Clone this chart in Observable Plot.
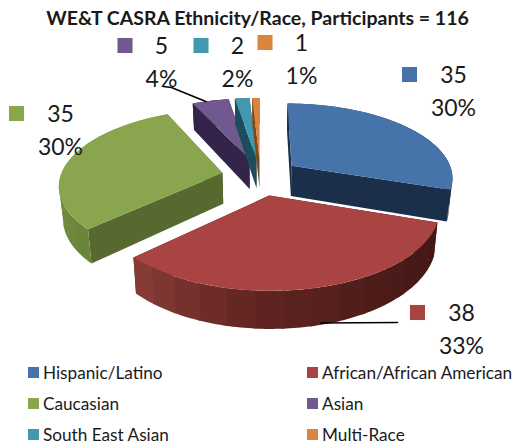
<!DOCTYPE html>
<html>
<head>
<meta charset="utf-8">
<script src="https://cdn.jsdelivr.net/npm/d3@7"></script>
<script src="https://cdn.jsdelivr.net/npm/@observablehq/plot@0.6"></script>
<style>
html,body{margin:0;padding:0;background:#fff;overflow:hidden;font-family:Lato,"Open Sans",sans-serif;color:#1a1a1a}
#chart figure{margin:0;max-width:none}
#chart h2{margin:0;height:24px;font:700 19.5px/35px Lato,sans-serif;text-align:center;color:#1a1a1a;white-space:nowrap}
#legend{display:grid;grid-template-columns:279px 1fr;grid-auto-rows:22px;row-gap:9px;margin-top:-7px;padding:4px 0 0 28px;height:84px;box-sizing:content-box}
#legend div{display:flex;align-items:center;gap:4px;font-size:17.2px;white-space:nowrap}
#legend i{display:block;width:11px;height:11px}
svg text{font-family:Lato,sans-serif}
</style>
</head>
<body>
<div id="chart"></div>
<div id="legend"></div>
<script>
const categories = ["Hispanic/Latino","African/African American","Caucasian","Asian","South East Asian","Multi-Race"];
const counts = [35,38,35,5,2,1];
const percents = ["30%","33%","30%","4%","2%","1%"];
const topColors = ["#4673A9","#A94442","#89A54E","#71588F","#4198AF","#DB843D"];
const radialWallColors = ["#1b2f4a","#4a1b17","#57692f","#33254a","#1b4d5c","#7a4a1d"];
const arcWallColors = [["#1b2f4a","#1b2f4a"],["#3f1714","#4d1c19","#632623","#8a3d38"],["#6a853a","#7f9c47"],["#33254a","#33254a"],["#1b4d5c","#1b4d5c"],["#7a4a1d","#7a4a1d"]];
const title = "WE&T CASRA Ethnicity/Race, Participants = 116";

// label layout, in plot units relative to the pie's centre
const labelSpots = [[193,-101],[201,137],[-200,-62],[-99,-130],[-23,-130],[41,-133]];
const lineGap = 33;
const swatchGap = d => 29 + 7.5 * String(d.count).length;

// projection parameters
const R = 162, explode = 39, squash = 0.46, persp = 0.15, depth = 31, shrink = 0.02;

const total = d3.sum(counts);
const slices = [];
let a0 = 0;
counts.forEach((v, i) => { const a1 = a0 + v / total * 2 * Math.PI; slices.push({i, a0, a1}); a0 = a1; });

function project(s, ang, rad, z) {
  const mid = (s.a0 + s.a1) / 2;
  const X = explode * Math.sin(mid) + rad * Math.sin(ang);
  const Y = explode * 1.05 * Math.cos(mid) + rad * Math.cos(ang);
  const k = 1 / (1 + persp * Y / R);
  return {x: X * k * (1 - shrink * z), y: -Y * squash * k + depth * k * z};
}
const poly = [];
function add(id, color, pts) { pts.forEach(p => poly.push({id, color, x: p.x, y: p.y})); }
function arc(s, z, from, to, n) { return d3.range(n + 1).map(j => project(s, from + (to - from) * j / n, R, z)); }

// back to front paint order
[2,3,4,5,0,1].forEach(i => {
  const s = slices[i];
  [s.a0, s.a1].sort((a, b) => Math.cos(b) - Math.cos(a)).forEach((ang, w) => {
    add(`r${i}-${w}`, radialWallColors[i], [project(s,ang,0,0), project(s,ang,R,0), project(s,ang,R,1), project(s,ang,0,1)]);
  });
  const span = s.a1 - s.a0;
  const bands = Math.max(1, Math.round(span * 7));
  const shade = d3.piecewise(d3.interpolateRgb, arcWallColors[i]);
  for (let j = 0; j < bands; j++) {
    const u = s.a0 + span * j / bands;
    const v = Math.min(s.a1, s.a0 + span * (j + 1) / bands + 0.01);
    add(`a${i}-${j}`, d3.rgb(shade((j + .5) / bands)).formatHex(), [...arc(s, 0, u, v, 8), ...arc(s, 1, v, u, 8)]);
  }
  add(`t${i}`, topColors[i], [project(s,s.a0,0,0), ...arc(s, 0, s.a0, s.a1, 40)]);
});

const labels = categories.map((c, i) => ({
  name: c, count: counts[i], pct: percents[i], color: topColors[i],
  x: labelSpots[i][0], y: labelSpots[i][1]
}));

// leader lines from a slice to its label
const leaders = [
  [{...project(slices[1], 2.88, R, 0.95)}, {x: labels[1].x - 64, y: labels[1].y + 9}],
  [{...project(slices[3], 5.95, R, 0)}, {x: labels[3].x + 10, y: labels[3].y + 41}, {x: labels[3].x + 2, y: labels[3].y + 40}]
].flatMap((l, k) => l.map(p => ({...p, k})));

const plot = Plot.plot({
  title,
  width: 515, height: 340,
  margin: 0,
  x: {domain: [-260, 255], range: [0, 515], axis: null},
  y: {domain: [-152, 188], range: [0, 340], axis: null},
  color: {type: "identity"},
  marks: [
    Plot.line(poly, {x: "x", y: "y", z: "id", fill: "color", stroke: "none", curve: "linear-closed"}),
    Plot.line(leaders, {x: "x", y: "y", z: "k", stroke: "#000", strokeWidth: 1.6}),
    Plot.dot(labels, {x: d => d.x - swatchGap(d), y: d => d.y - 1, symbol: "square", r: 8.5, fill: "color", stroke: null}),
    Plot.text(labels, {x: "x", y: "y", text: d => String(d.count), fontSize: 23, fill: "#1a1a1a"}),
    Plot.text(labels, {x: "x", y: d => d.y + lineGap, text: "pct", fontSize: 23, fill: "#1a1a1a"})
  ]
});
document.getElementById("chart").append(plot);

const legend = document.getElementById("legend");
categories.forEach((c, i) => {
  const d = document.createElement("div");
  const sw = document.createElement("i");
  sw.style.background = topColors[i];
  const t = document.createElement("span");
  t.textContent = c;
  d.append(sw, t);
  legend.append(d);
});
</script>
</body>
</html>
